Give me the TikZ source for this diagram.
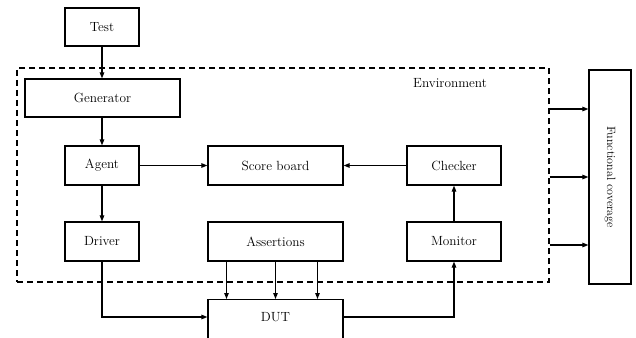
\documentclass[tikz,border=0pt]{standalone}
\usetikzlibrary{arrows.meta,positioning}
\begin{document}
\begin{tikzpicture}[x=1pt,y=-1pt,
  box/.style={draw,line width=1.2pt,rectangle,inner sep=0pt,font=\fontsize{13.3}{16}\selectfont},
  arr/.style={line width=1.1pt,-{Triangle[length=6pt,width=4.5pt]}},
  envbox/.style={draw,line width=1.1pt,dash pattern=on 6pt off 4pt,inner sep=0pt}]
\useasboundingbox (0,0) rectangle (636,337);
\node[envbox,minimum width=532pt,minimum height=214pt] (env) at (283,175) {};
\node[font=\fontsize{13.3}{16}\selectfont] (envlbl) at (450,83) {Environment};
\node[box,minimum width=74pt,minimum height=38pt] (test) at (102,27) {Test};
\node[box,minimum width=155pt,minimum height=38pt] (gen) at (102.5,98) {Generator};
\node[box,minimum width=74pt,minimum height=39pt] (agent) at (102,165.5) {Agent};
\node[box,minimum width=135pt,minimum height=39pt] (score) at (275.5,165.5) {Score board};
\node[box,minimum width=94pt,minimum height=39pt] (checker) at (454,165.5) {Checker};
\node[box,minimum width=74pt,minimum height=39pt] (driver) at (102,241.5) {Driver};
\node[box,minimum width=135pt,minimum height=39pt] (assert) at (275.5,241.5) {Assertions};
\node[box,minimum width=94pt,minimum height=39pt] (monitor) at (454,241.5) {Monitor};
\node[box,minimum width=135pt,minimum height=52pt,anchor=north] (dut) at (275.5,299) {};
\node[font=\fontsize{13.3}{16}\selectfont] (dutlbl) at (275.5,317) {DUT};
\node[box,minimum width=42pt,minimum height=214pt] (fc) at (610,177) {};
\node[rotate=-90,font=\fontsize{12}{14}\selectfont] (fclbl) at (610,177) {Functional coverage};
% connectors
\draw[arr] (test.south) -- (gen.north -| test.south);
\draw[arr] (gen.south -| agent.north) -- (agent.north);
\draw[arr] (agent.east) -- (score.west);
\draw[arr] (checker.west) -- (score.east);
\draw[arr] (agent.south) -- (driver.north);
\draw[arr] (monitor.north) -- (checker.south);
\coordinate (dl) at ([yshift=-18pt]dut.north west);
\coordinate (dr) at ([yshift=-18pt]dut.north east);
\draw[arr] (driver.south) |- (dl);
\draw[arr] (dr) -| (monitor.south);
\coordinate (a1) at ([xshift=-49pt]assert.south);
\coordinate (a2) at (assert.south);
\coordinate (a3) at ([xshift=42pt]assert.south);
\draw[arr] (a1) -- (a1 |- dut.north);
\draw[arr] (a2) -- (a2 |- dut.north);
\draw[arr] (a3) -- (a3 |- dut.north);
\coordinate (f1) at ([yshift=68pt]fc.west);
\coordinate (f2) at (fc.west);
\coordinate (f3) at ([yshift=-68pt]fc.west);
\draw[arr] (env.east |- f1) -- (f1);
\draw[arr] (env.east |- f2) -- (f2);
\draw[arr] (env.east |- f3) -- (f3);
\end{tikzpicture}
\end{document}
